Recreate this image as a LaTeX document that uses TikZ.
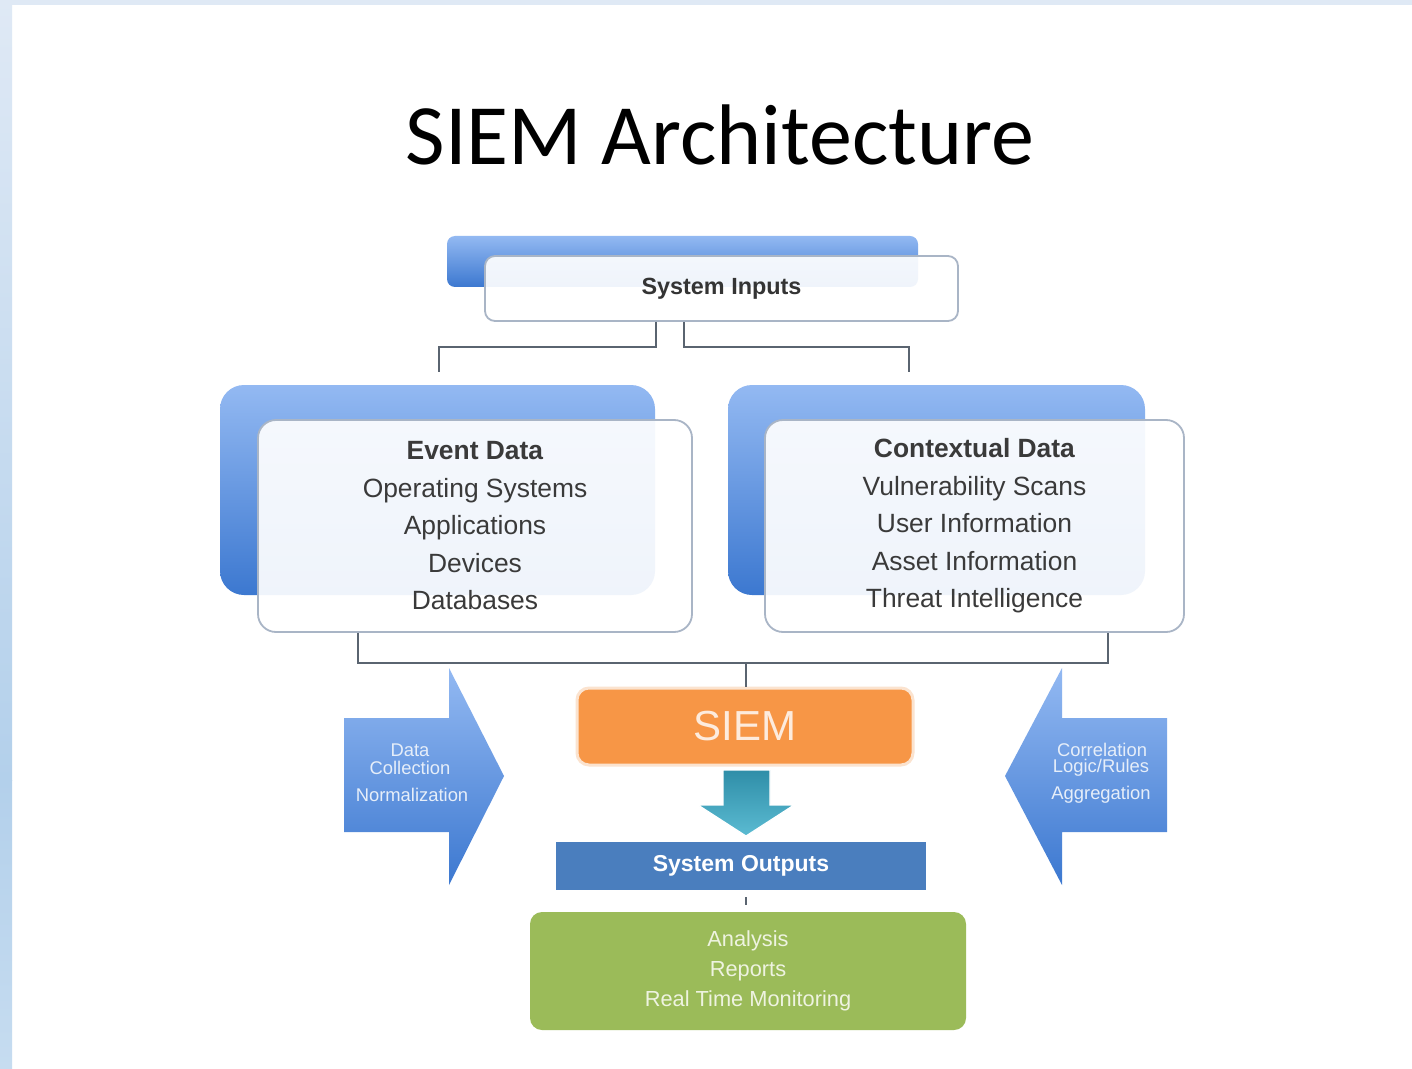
\documentclass[tikz,border=0pt]{standalone}
\usepackage{fontspec}
\setmainfont{Liberation Sans}
\newfontfamily\titlefont{Carlito}
\definecolor{bgA}{HTML}{DFE9F5}
\definecolor{bgB}{HTML}{B3D0EB}
\definecolor{bgC}{HTML}{C6DCF0}
\definecolor{blueL}{HTML}{93B9F2}
\definecolor{blueD}{HTML}{3C78D0}
\definecolor{boxline}{HTML}{A9B5C6}
\definecolor{conn}{HTML}{5A6470}
\definecolor{txt}{HTML}{3A3A3A}
\definecolor{siem}{HTML}{F79646}
\definecolor{siemedge}{HTML}{FBE3CF}
\definecolor{siemtxt}{HTML}{FDEBDD}
\definecolor{tealA}{HTML}{2F8EA8}
\definecolor{tealB}{HTML}{5BBBD2}
\definecolor{outblue}{HTML}{4A7EBE}
\definecolor{green}{HTML}{9BBB59}
\definecolor{greentxt}{HTML}{EEF3E0}
\definecolor{arrtxt}{HTML}{E6EEF9}
\tikzset{
  backbox/.style={shade, top color=blueL, bottom color=blueD, rounded corners=12pt, inner sep=0pt},
  frontbox/.style={draw=boxline, line width=0.9pt, fill=white, fill opacity=0.92, text opacity=1, rounded corners=9pt, inner sep=0pt, align=center, text=txt},
  conline/.style={draw=conn, line width=1.2pt},
  bluearrow/.style={shade, top color=blueL, bottom color=blueD},
  arrlabel/.style={text=arrtxt, font=\fontsize{9.2}{11}\selectfont, inner sep=0pt},
}
\begin{document}
\begin{tikzpicture}[x=0.5pt,y=-0.5pt]
\useasboundingbox (0,0) rectangle (1412,1069);
% background
\fill[white] (0,0) rectangle (1412,1069);
\fill[bgA] (0,0) rectangle (1412,5);
\shade[top color=bgA, bottom color=bgB] (0,0) rectangle (12,780);
\shade[top color=bgB, bottom color=bgC] (0,780) rectangle (12,1069);

% title
\node[anchor=base, inner sep=0pt, font=\titlefont\fontsize{43}{50}\selectfont] (title) at (720,165) {SIEM Architecture};

% system inputs
\node[backbox, rounded corners=4pt, minimum width=235.5pt, minimum height=25.5pt] (inpback) at (682.5,261.5) {};
\node[frontbox, rounded corners=5pt, minimum width=236.5pt, minimum height=32.5pt, font=\bfseries\fontsize{11.7}{14}\selectfont, text=txt!90!black] (inp) at (721.5,288.5) {System Inputs};

% event / contextual back boxes
\node[backbox, minimum width=217.5pt, minimum height=105pt] (evtback) at (437.5,490) {};
\node[backbox, minimum width=208.5pt, minimum height=105pt] (ctxback) at (936.5,490) {};

% connectors from system inputs
\coordinate (inL) at (439,372);
\coordinate (inR) at (909,372);
\draw[conline] ([xshift=-32.75pt]inp.south) |- (439,347) -- (inL);
\draw[conline] ([xshift=-18.75pt]inp.south) |- (909,347) -- (inR);

% front boxes
\node[frontbox, minimum width=217pt, minimum height=106pt, font=\fontsize{13.2}{18.75}\selectfont] (evt) at (475,526)
  {\textbf{Event Data}\\Operating Systems\\Applications\\Devices\\Databases};
\node[frontbox, minimum width=209.5pt, minimum height=106pt, font=\fontsize{13.2}{18.75}\selectfont] (ctx) at (974.5,526)
  {\textbf{Contextual Data}\\Vulnerability Scans\\User Information\\Asset Information\\Threat Intelligence};

% SIEM
\node[fill=siem, draw=siemedge, line width=1.5pt, rounded corners=6pt, minimum width=168pt, minimum height=38.5pt, inner sep=0pt, text=siemtxt, font=\fontsize{21}{24}\selectfont] (siem) at (745,726.5) {SIEM};

% bracket from data boxes to SIEM
\coordinate (brL) at (358,663);
\coordinate (brR) at (1108,663);
\coordinate (brM) at (746,663);
\draw[conline] (evt.south -| brL) -- (brL) -- (brR) -- (ctx.south -| brR);
\draw[conline] (brM) -- (siem.north -| brM);

% side arrows
\shade[bluearrow] (344,718) -- (449,718) -- (449,668) -- (504,776) -- (449,885) -- (449,832) -- (344,832) -- cycle;
\node[arrlabel] (a1) at (410,750) {Data};
\node[arrlabel] (a2) at (410,768) {Collection};
\node[arrlabel] (a3) at (412,795) {Normalization};

\shade[bluearrow] (1167,718) -- (1062,718) -- (1062,668) -- (1005,776) -- (1062,885) -- (1062,832) -- (1167,832) -- cycle;
\node[arrlabel] (b1) at (1102,750) {Correlation};
\node[arrlabel] (b2) at (1101,768) {Logic/Rules};
\node[arrlabel] (b3) at (1101,795) {Aggregation};

% teal arrow
\shade[top color=tealA, bottom color=tealB, draw=white, line width=0.6pt] (723,770) -- (770,770) -- (770,805) -- (794,805) -- (746,836) -- (698,805) -- (723,805) -- cycle;

% system outputs
\node[fill=outblue, minimum width=185pt, minimum height=24pt, inner sep=0pt, text=white, font=\bfseries\fontsize{11.5}{14}\selectfont] (out) at (741,866) {System Outputs};

% green output box
\node[fill=green, rounded corners=6pt, minimum width=218pt, minimum height=59pt, inner sep=0pt, align=center, text=greentxt, font=\fontsize{10.9}{15}\selectfont] (res) at (748,971) {Analysis\\Reports\\Real Time Monitoring};

\coordinate (tk1) at (746,897);
\coordinate (tk2) at (746,905);
\draw[conline] (tk1) -- (tk2);
\end{tikzpicture}
\end{document}
